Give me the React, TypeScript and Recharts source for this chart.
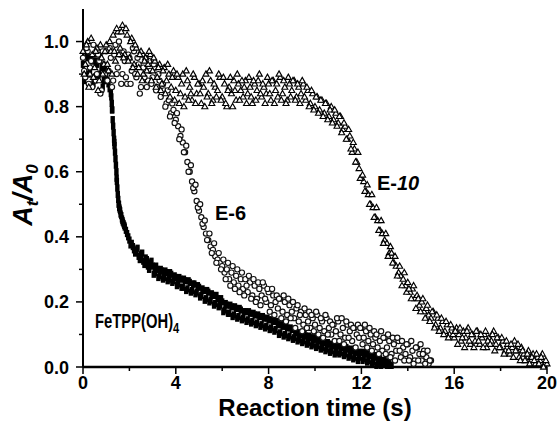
import { ScatterChart, Scatter, XAxis, YAxis, ReferenceDot } from "recharts";

const TIME_STEP = 0.1;

const xTicks = [0, 2, 4, 6, 8, 10, 12, 14, 16, 18, 20];
const yTicks = [0, 0.1, 0.2, 0.3, 0.4, 0.5, 0.6, 0.7, 0.8, 0.9, 1.0];

// FeTPP(OH)4, t = 0 .. 13.3 s
const feValues = [
  0.93, 0.9, 0.95, 0.91, 0.94, 0.89, 0.93, 0.9, 0.92, 0.88,
  0.89, 0.87, 0.84, 0.74, 0.64, 0.53, 0.48, 0.45, 0.43, 0.41,
  0.39, 0.38, 0.36, 0.355, 0.34, 0.345, 0.325, 0.335, 0.31, 0.32,
  0.31, 0.29, 0.3, 0.28, 0.295, 0.275, 0.29, 0.27, 0.285, 0.265,
  0.275, 0.255, 0.27, 0.245, 0.265, 0.24, 0.26, 0.235, 0.255, 0.23,
  0.245, 0.22, 0.235, 0.21, 0.23, 0.205, 0.22, 0.195, 0.21, 0.19,
  0.2, 0.175, 0.19, 0.165, 0.185, 0.16, 0.18, 0.155, 0.175, 0.15,
  0.17, 0.145, 0.165, 0.14, 0.16, 0.135, 0.155, 0.13, 0.15, 0.125,
  0.145, 0.12, 0.14, 0.115, 0.13, 0.105, 0.125, 0.1, 0.12, 0.095,
  0.115, 0.09, 0.105, 0.085, 0.1, 0.08, 0.095, 0.075, 0.09, 0.07,
  0.085, 0.065, 0.08, 0.06, 0.075, 0.055, 0.07, 0.05, 0.065, 0.045,
  0.065, 0.045, 0.06, 0.04, 0.055, 0.035, 0.05, 0.03, 0.045, 0.03,
  0.045, 0.025, 0.04, 0.02, 0.035, 0.015, 0.03, 0.01, 0.025, 0.01,
  0.02, 0.005, 0.015, 0.005,
];
// t = 0.05 .. 13.25 s
const feMid = [
  0.88, 0.96, 0.9, 0.95, 0.87, 0.94, 0.89, 0.95, 0.86, 0.92,
  0.88, 0.855, 0.79, 0.69, 0.58, 0.5, 0.465, 0.44, 0.42, 0.4,
  0.375, 0.37, 0.35, 0.365, 0.33, 0.35, 0.315, 0.33, 0.3, 0.325,
  0.285, 0.31, 0.275, 0.3, 0.27, 0.295, 0.265, 0.29, 0.26, 0.28,
  0.25, 0.275, 0.245, 0.27, 0.235, 0.265, 0.23, 0.255, 0.225, 0.25,
  0.215, 0.24, 0.205, 0.235, 0.2, 0.225, 0.19, 0.22, 0.185, 0.21,
  0.17, 0.195, 0.165, 0.19, 0.155, 0.185, 0.15, 0.18, 0.145, 0.17,
  0.14, 0.17, 0.135, 0.165, 0.13, 0.16, 0.125, 0.155, 0.12, 0.15,
  0.115, 0.145, 0.11, 0.14, 0.1, 0.13, 0.095, 0.125, 0.09, 0.12,
  0.085, 0.11, 0.08, 0.105, 0.075, 0.1, 0.07, 0.095, 0.065, 0.09,
  0.06, 0.085, 0.055, 0.08, 0.05, 0.075, 0.045, 0.07, 0.04, 0.065,
  0.04, 0.065, 0.035, 0.06, 0.03, 0.055, 0.025, 0.05, 0.02, 0.045,
  0.02, 0.045, 0.015, 0.04, 0.01, 0.035, 0.005, 0.03, 0.005, 0.02,
  0.01, 0.015, 0.005,
];
// extra points on the fast drop of FeTPP(OH)4
const feDropTimes = [1.22, 1.24, 1.26, 1.28, 1.32, 1.34, 1.36, 1.38, 1.42, 1.44, 1.46, 1.48, 1.52, 1.54, 1.56, 1.58, 1.62, 1.68, 1.72, 1.78];
const feDropValues = [0.83, 0.81, 0.79, 0.76, 0.72, 0.7, 0.68, 0.66, 0.62, 0.6, 0.57, 0.55, 0.515, 0.5, 0.49, 0.485, 0.47, 0.455, 0.445, 0.435];

// E-6, t = 0 .. 15 s
const e6Values = [
  0.95, 0.89, 0.97, 0.92, 0.86, 0.96, 0.9, 0.94, 0.85, 0.93,
  0.97, 0.91, 0.95, 0.88, 0.99, 0.92, 0.96, 0.9, 0.94, 0.87,
  0.95, 0.91, 0.97, 0.89, 0.93, 0.86, 0.92, 0.95, 0.88, 0.91,
  0.89, 0.92, 0.86, 0.88, 0.84, 0.85, 0.81, 0.82, 0.78, 0.79,
  0.76, 0.74, 0.71, 0.69, 0.66, 0.63, 0.6, 0.57, 0.54, 0.51,
  0.48, 0.46, 0.43, 0.41, 0.39, 0.37, 0.36, 0.34, 0.33, 0.32,
  0.31, 0.29, 0.3, 0.27, 0.29, 0.26, 0.28, 0.25, 0.27, 0.24,
  0.27, 0.23, 0.26, 0.22, 0.25, 0.21, 0.24, 0.22, 0.25, 0.2,
  0.23, 0.19, 0.22, 0.2, 0.18, 0.21, 0.17, 0.2, 0.16, 0.19,
  0.17, 0.15, 0.18, 0.14, 0.17, 0.13, 0.16, 0.14, 0.12, 0.15,
  0.13, 0.16, 0.12, 0.14, 0.11, 0.15, 0.12, 0.1, 0.13, 0.11,
  0.14, 0.1, 0.12, 0.09, 0.13, 0.11, 0.08, 0.12, 0.1, 0.09,
  0.12, 0.09, 0.11, 0.08, 0.1, 0.07, 0.09, 0.06, 0.08, 0.05,
  0.09, 0.06, 0.08, 0.04, 0.07, 0.05, 0.08, 0.03, 0.06, 0.04,
  0.07, 0.03, 0.05, 0.02, 0.06, 0.04, 0.02, 0.05, 0.03, 0.01,
  0.02,
];
// t = 0.05 .. 14.95 s
const e6Mid = [
  0.91, 0.98, 0.87, 0.94, 0.99, 0.88, 0.96, 0.84, 0.97, 0.9,
  0.88, 0.98, 0.86, 0.96, 0.9, 1.0, 0.87, 0.97, 0.89, 0.96,
  0.87, 0.98, 0.9, 0.95, 0.84, 0.96, 0.89, 0.86, 0.94, 0.87,
  0.93, 0.85, 0.9, 0.83, 0.87, 0.8, 0.85, 0.77, 0.81, 0.75,
  0.78, 0.7, 0.73, 0.66, 0.68, 0.6, 0.62, 0.55, 0.56, 0.49,
  0.5, 0.44, 0.45, 0.39, 0.41, 0.35, 0.38, 0.32, 0.35, 0.3,
  0.33, 0.27, 0.32, 0.25, 0.31, 0.24, 0.3, 0.23, 0.29, 0.22,
  0.25, 0.28, 0.21, 0.27, 0.2, 0.26, 0.19, 0.26, 0.21, 0.24,
  0.17, 0.24, 0.16, 0.22, 0.21, 0.15, 0.22, 0.14, 0.21, 0.15,
  0.2, 0.12, 0.19, 0.16, 0.11, 0.18, 0.12, 0.17, 0.16, 0.11,
  0.17, 0.1, 0.15, 0.09, 0.16, 0.1, 0.14, 0.13, 0.08, 0.15,
  0.08, 0.15, 0.07, 0.14, 0.09, 0.13, 0.12, 0.06, 0.13, 0.12,
  0.07, 0.13, 0.06, 0.12, 0.05, 0.11, 0.1, 0.04, 0.11, 0.09,
  0.04, 0.1, 0.03, 0.09, 0.02, 0.09, 0.05, 0.08, 0.02, 0.07,
  0.02, 0.08, 0.01, 0.06, 0.02, 0.07, 0.04, 0.01, 0.05, 0.02,
];

// E-10, t = 0 .. 20 s
const e10Values = [
  0.97, 0.93, 1.0, 0.9, 0.96, 0.92, 0.98, 0.88, 0.95, 0.93,
  0.99, 0.91, 0.97, 1.02, 0.94, 1.03, 0.98, 1.05, 0.96, 1.02,
  0.95, 1.01, 0.93, 0.98, 0.92, 0.97, 0.9, 0.95, 0.93, 0.96,
  0.91, 0.94, 0.89, 0.93, 0.87, 0.92, 0.88, 0.9, 0.86, 0.91,
  0.85, 0.89, 0.84, 0.9, 0.83, 0.88, 0.86, 0.82, 0.89, 0.84,
  0.87, 0.81, 0.86, 0.9, 0.84, 0.88, 0.82, 0.86, 0.85, 0.89,
  0.83, 0.87, 0.8, 0.86, 0.84, 0.88, 0.82, 0.87, 0.85, 0.83,
  0.88, 0.84, 0.86, 0.81, 0.87, 0.85, 0.9, 0.83, 0.86, 0.84,
  0.87, 0.82, 0.88, 0.85, 0.83, 0.89, 0.84, 0.86, 0.82, 0.87,
  0.85, 0.88, 0.83, 0.86, 0.84, 0.87, 0.82, 0.85, 0.81, 0.84,
  0.8, 0.83, 0.79, 0.82, 0.78, 0.81, 0.77, 0.8, 0.76, 0.78,
  0.75, 0.77, 0.73, 0.74, 0.7, 0.71, 0.66, 0.67, 0.63, 0.61,
  0.58, 0.57, 0.54, 0.53, 0.5, 0.49, 0.46, 0.45, 0.42, 0.41,
  0.39, 0.38, 0.35, 0.35, 0.32, 0.31, 0.29, 0.28, 0.27, 0.25,
  0.26, 0.23, 0.24, 0.21, 0.22, 0.19, 0.2, 0.17, 0.18, 0.16,
  0.15, 0.17, 0.13, 0.15, 0.12, 0.14, 0.11, 0.13, 0.1, 0.12,
  0.09, 0.12, 0.1, 0.08, 0.11, 0.09, 0.12, 0.07, 0.1, 0.08,
  0.11, 0.07, 0.09, 0.1, 0.06, 0.09, 0.08, 0.11, 0.07, 0.09,
  0.06, 0.08, 0.05, 0.07, 0.04, 0.06, 0.08, 0.05, 0.03, 0.06,
  0.04, 0.02, 0.05, 0.03, 0.04, 0.01, 0.03, 0.02, 0.04, 0.01,
  0.01,
];
// t = 0.05 .. 19.95 s
const e10Mid = [
  0.9, 0.99, 0.86, 1.01, 0.89, 0.97, 0.85, 0.99, 0.9, 0.97,
  0.93, 1.0, 0.9, 0.97, 1.04, 0.96, 1.03, 0.95, 1.04, 0.94,
  1.0, 0.92, 0.99, 0.9, 0.96, 0.88, 0.94, 0.91, 0.97, 0.88,
  0.95, 0.86, 0.92, 0.85, 0.91, 0.84, 0.93, 0.83, 0.89, 0.82,
  0.9, 0.81, 0.87, 0.8, 0.91, 0.82, 0.84, 0.9, 0.81, 0.87,
  0.84, 0.88, 0.8, 0.83, 0.91, 0.81, 0.87, 0.83, 0.9, 0.82,
  0.89, 0.81, 0.85, 0.89, 0.8, 0.85, 0.9, 0.82, 0.88, 0.86,
  0.81, 0.89, 0.83, 0.88, 0.82, 0.88, 0.84, 0.87, 0.81, 0.89,
  0.84, 0.88, 0.81, 0.87, 0.9, 0.82, 0.88, 0.81, 0.89, 0.83,
  0.88, 0.82, 0.87, 0.81, 0.88, 0.83, 0.86, 0.8, 0.85, 0.79,
  0.83, 0.78, 0.82, 0.77, 0.81, 0.76, 0.79, 0.75, 0.79, 0.74,
  0.77, 0.72, 0.75, 0.7, 0.73, 0.67, 0.69, 0.63, 0.66, 0.58,
  0.59, 0.54, 0.56, 0.5, 0.53, 0.46, 0.49, 0.42, 0.45, 0.38,
  0.41, 0.34, 0.37, 0.32, 0.34, 0.28, 0.31, 0.25, 0.29, 0.23,
  0.24, 0.21, 0.25, 0.18, 0.21, 0.17, 0.21, 0.15, 0.19, 0.14,
  0.17, 0.12, 0.16, 0.11, 0.15, 0.1, 0.14, 0.09, 0.13, 0.1,
  0.11, 0.07, 0.12, 0.09, 0.06, 0.11, 0.08, 0.1, 0.06, 0.11,
  0.08, 0.1, 0.06, 0.11, 0.08, 0.07, 0.1, 0.05, 0.09, 0.06,
  0.09, 0.04, 0.08, 0.05, 0.07, 0.03, 0.05, 0.07, 0.02, 0.05,
  0.02, 0.04, 0.01, 0.03, 0.02, 0.04, 0.01, 0.03, 0.0, 0.02,
];

const toPoints = (values: number[], offset = 0) =>
  values.map((v, i) => ({ t: Math.round((offset + i * TIME_STEP) * 100) / 100, v }));

const feData = [
  ...toPoints(feValues),
  ...toPoints(feMid, TIME_STEP / 2),
  ...feDropTimes.map((t, i) => ({ t, v: feDropValues[i] })),
];
const e6Data = [...toPoints(e6Values), ...toPoints(e6Mid, TIME_STEP / 2)];
const e10Data = [...toPoints(e10Values), ...toPoints(e10Mid, TIME_STEP / 2)];

const FONT = "'Liberation Sans', Arial, sans-serif";

const SquareDot = (p: any) => (
  <rect x={p.cx - 2.2} y={p.cy - 3.6} width={4.4} height={7.2} fill="#000" />
);
const CircleDot = (p: any) => (
  <circle cx={p.cx} cy={p.cy} r={2.6} fill="#fff" stroke="#111" strokeWidth={1.15} />
);
const TriangleDot = (p: any) => (
  <path
    d={`M${p.cx},${p.cy - 3.2}L${p.cx + 3},${p.cy + 2.1}L${p.cx - 3},${p.cy + 2.1}Z`}
    fill="#fff"
    stroke="#000"
    strokeWidth={1.15}
  />
);

const LeftTick = ({ x, y, payload }: any) => {
  const major = Math.round(payload.value * 10) % 2 === 0;
  return (
    <g>
      <line x1={x} x2={x - (major ? 7 : 4)} y1={y} y2={y} stroke="#000" strokeWidth={1.5} />
      {major && (
        <text x={x - 14} y={y + 6.5} textAnchor="end" fontSize={18} fontWeight="bold" fontFamily={FONT} fill="#000">
          {payload.value.toFixed(1)}
        </text>
      )}
    </g>
  );
};

const RightTick = ({ x, y }: any) => (
  <line x1={x} x2={x + 3} y1={y} y2={y} stroke="#000" strokeWidth={1.2} />
);

const BottomTick = ({ x, y, payload }: any) => {
  const major = payload.value % 4 === 0;
  return (
    <g>
      <line x1={x} x2={x} y1={y} y2={y + (major ? 7 : 4)} stroke="#000" strokeWidth={1.5} />
      {major && (
        <text x={x} y={y + 22} textAnchor="middle" fontSize={18} fontWeight="bold" fontFamily={FONT} fill="#000">
          {payload.value}
        </text>
      )}
    </g>
  );
};

const TopTick = ({ x, y }: any) => (
  <line x1={x} x2={x} y1={y} y2={y - 3} stroke="#000" strokeWidth={1.2} />
);

const XTitle = ({ viewBox }: any) => (
  <text
    x={viewBox.x + viewBox.width / 2}
    y={viewBox.y + 49}
    textAnchor="middle"
    fontSize={24}
    fontWeight="bold"
    fontFamily={FONT}
    fill="#000"
  >
    Reaction time (s)
  </text>
);

const YTitle = () => {
  const cx = 32;
  const cy = 195;
  return (
    <text
      x={cx}
      y={cy}
      transform={`rotate(-90, ${cx}, ${cy})`}
      textAnchor="middle"
      fontSize={27}
      fontWeight="bold"
      fontStyle="italic"
      fontFamily={FONT}
      fill="#000"
    >
      A<tspan dy={6} fontSize={17}>t</tspan>
      <tspan dy={-6}>/A</tspan>
      <tspan dy={6} fontSize={17}>0</tspan>
    </text>
  );
};

const noteStyle = { fontSize: 20, fontWeight: "bold" as const, fontFamily: FONT, fill: "#000" };

export default function App() {
  return (
    <div style={{ position: "absolute", left: 0, top: 0, background: "#fff" }}>
      <ScatterChart width={558} height={422} margin={{ top: 9, right: 11, left: 0, bottom: 0 }}>
        <XAxis
          type="number"
          dataKey="t"
          domain={[0, 20]}
          ticks={xTicks}
          interval={0}
          height={55}
          tickSize={0}
          tickMargin={0}
          tickLine={false}
          tick={<BottomTick />}
          axisLine={{ stroke: "#000", strokeWidth: 2.5 }}
          label={<XTitle />}
        />
        <XAxis
          xAxisId="top"
          orientation="top"
          type="number"
          dataKey="t"
          domain={[0, 20]}
          ticks={xTicks}
          interval={0}
          height={0}
          tickSize={0}
          tickMargin={0}
          tickLine={false}
          tick={<TopTick />}
          axisLine={{ stroke: "#000", strokeWidth: 1.5 }}
        />
        <YAxis
          type="number"
          dataKey="v"
          domain={[0, 1.1]}
          ticks={yTicks}
          interval={0}
          width={83}
          tickSize={0}
          tickMargin={0}
          tickLine={false}
          tick={<LeftTick />}
          axisLine={{ stroke: "#000", strokeWidth: 2 }}
          label={<YTitle />}
        />
        <YAxis
          yAxisId="right"
          orientation="right"
          type="number"
          dataKey="v"
          domain={[0, 1.1]}
          ticks={yTicks}
          interval={0}
          width={0}
          tickSize={0}
          tickMargin={0}
          tickLine={false}
          tick={<RightTick />}
          axisLine={{ stroke: "#000", strokeWidth: 1.5 }}
        />
        <Scatter data={feData} shape={SquareDot} isAnimationActive={false} />
        <Scatter data={e6Data} shape={CircleDot} isAnimationActive={false} />
        <Scatter data={e10Data} shape={TriangleDot} isAnimationActive={false} />
        <ReferenceDot
          x={5.69}
          y={0.452}
          r={0}
          shape={(p: any) => (
            <text x={p.cx} y={p.cy} {...noteStyle}>E-6</text>
          )}
        />
        <ReferenceDot
          x={12.67}
          y={0.545}
          r={0}
          shape={(p: any) => (
            <text x={p.cx} y={p.cy} {...noteStyle}>
              E-<tspan fontStyle="italic">10</tspan>
            </text>
          )}
        />
        <ReferenceDot
          x={0.52}
          y={0.12}
          r={0}
          shape={(p: any) => (
            <g transform={`translate(${p.cx}, ${p.cy}) scale(0.74, 1)`}>
              <text x={0} y={0} {...noteStyle}>
                FeTPP(OH)<tspan dy={5} fontSize={15}>4</tspan>
              </text>
            </g>
          )}
        />
      </ScatterChart>
    </div>
  );
}
